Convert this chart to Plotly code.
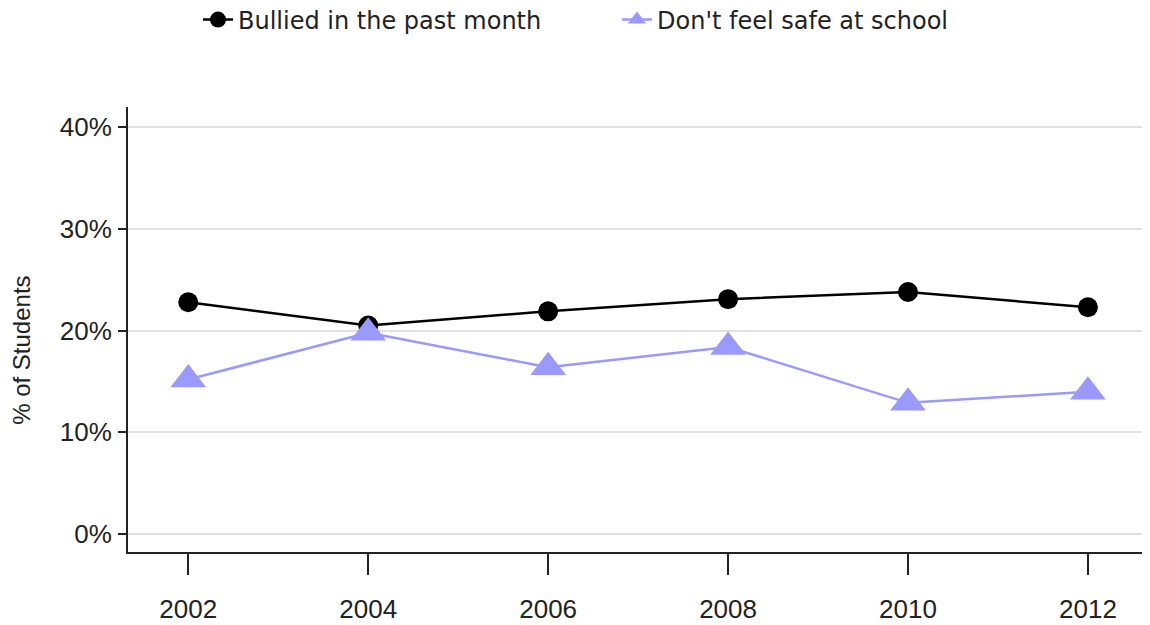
import plotly.graph_objects as go

years = [2002, 2004, 2006, 2008, 2010, 2012]
bullied = [22.8, 20.5, 21.9, 23.1, 23.8, 22.3]
unsafe = [15.2, 19.8, 16.4, 18.4, 12.9, 14.0]
y_ticks = [0, 10, 20, 30, 40]
y_tick_labels = ["0%", "10%", "20%", "30%", "40%"]
y_title = "% of Students"

fig = go.Figure()
fig.add_trace(go.Scatter(
    x=years, y=bullied, mode="lines+markers", name="Bullied in the past month",
    line=dict(color="#000000", width=2.5),
    marker=dict(symbol="circle", size=20, color="#000000"),
))
fig.add_trace(go.Scatter(
    x=years, y=unsafe, mode="lines+markers", name="Don't feel safe at school",
    line=dict(color="#9999ff", width=2.5),
    marker=dict(symbol="triangle-up", size=31, color="#9999ff"),
))

# page has an 8px body margin: size the figure to fill the rest of the window
W, H = 1142, 617
fig.update_layout(
    width=W, height=H,
    margin=dict(l=120, r=0, t=99, b=73),
    plot_bgcolor="white", paper_bgcolor="white",
    font=dict(family="Liberation Sans, Arial, sans-serif", color="#222222"),
    showlegend=True,
    legend=dict(
        orientation="h", xref="container", yref="container",
        x=190 / W, y=1 - 12 / H, xanchor="left", yanchor="middle",
        font=dict(family="DejaVu Sans, Verdana, sans-serif", size=24, color="#222222"),
        entrywidth=374, entrywidthmode="pixels",
        bgcolor="rgba(0,0,0,0)",
    ),
    xaxis=dict(
        range=[2001.33, 2012.69], tickmode="array", tickvals=years,
        ticktext=[str(y) for y in years],
        showgrid=False, zeroline=False,
        showline=True, linecolor="#222222", linewidth=2,
        ticks="outside", ticklen=21, tickwidth=1.5, tickcolor="#222222",
        tickfont=dict(size=26, color="#222222"),
        ticklabelstandoff=12, automargin=False,
    ),
    yaxis=dict(
        range=[-1.77, 42.0], tickmode="array", tickvals=y_ticks, ticktext=y_tick_labels,
        showgrid=True, gridcolor="#e0e0e0", gridwidth=1.5, zeroline=False,
        showline=True, linecolor="#222222", linewidth=2,
        ticks="outside", ticklen=8, tickwidth=1.5, tickcolor="#222222",
        tickfont=dict(size=26, color="#222222"),
        ticklabelstandoff=1,
        automargin=False,
    ),
    annotations=[dict(
        text=y_title, textangle=-90, showarrow=False,
        xref="paper", yref="paper", x=0, y=0.452,
        xanchor="center", yanchor="middle", xshift=-106,
        font=dict(size=24, color="#222222"),
    )],
)

fig.write_html("out.html")
